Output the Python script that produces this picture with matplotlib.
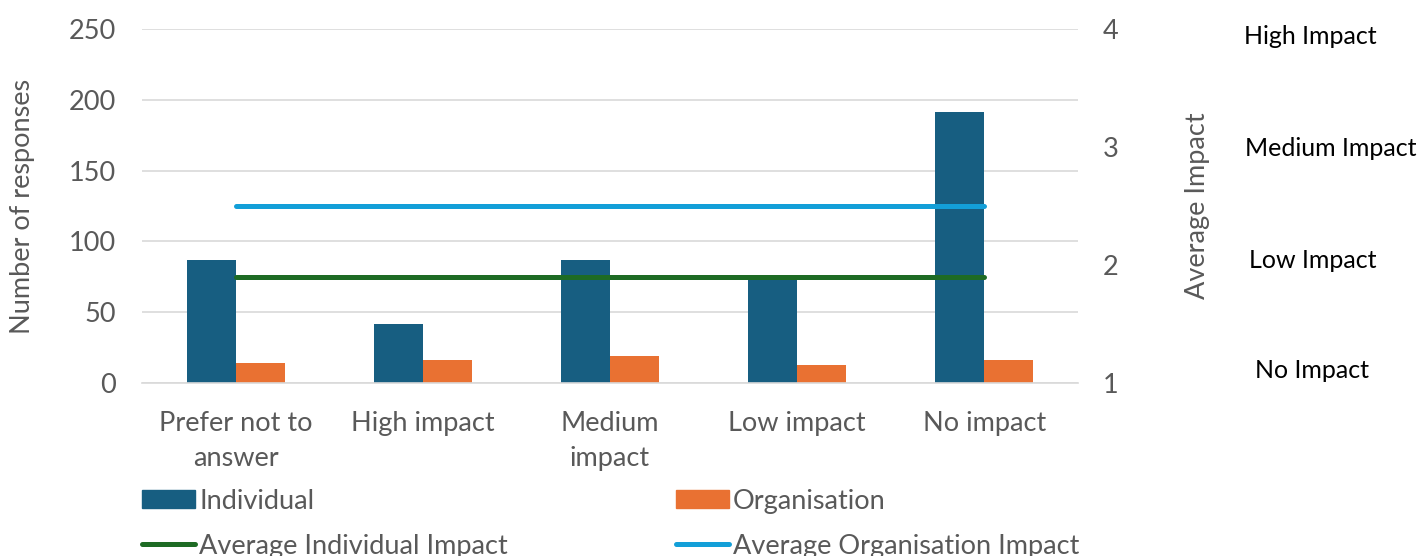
import matplotlib.pyplot as plt
import numpy as np
from matplotlib.lines import Line2D
from matplotlib.patches import Patch

categories = ["Prefer not to\nanswer", "High impact", "Medium\nimpact", "Low impact", "No impact"]
individual = [87, 42, 87, 75, 191]
organisation = [14, 16, 19, 13, 16]
avg_individual_impact = 1.9
avg_organisation_impact = 2.5
impact_levels = ["High Impact", "Medium Impact", "Low Impact", "No Impact"]

C_IND = "#175e81"
C_ORG = "#e97132"
C_AVG_IND = "#1e6b24"
C_AVG_ORG = "#139fd8"
GREY = "#595959"
FS = 19.5

plt.rcParams["font.family"] = ["Lato", "DejaVu Sans"]

fig = plt.figure(figsize=(14.23, 5.56), dpi=100)
ax = fig.add_axes([0.0998, 0.311, 0.6577, 0.637])

x = np.arange(len(categories))
w = 0.262
ax.bar(x - w / 2, individual, w, color=C_IND, zorder=2)
ax.bar(x + w / 2, organisation, w, color=C_ORG, zorder=2)

ax.set_xlim(-0.5, len(categories) - 0.5)
ax.set_ylim(0, 250)
ax.set_yticks(range(0, 251, 50))
ax.grid(axis="y", color="#d9d9d9", linewidth=1.2, zorder=0)
ax.set_axisbelow(True)
ax.set_xticks(x)
ax.set_xticklabels(categories, fontsize=FS, color=GREY, linespacing=1.5)
ax.tick_params(axis="y", labelsize=FS, labelcolor=GREY, length=0, pad=19)
ax.tick_params(axis="x", length=0, pad=20)
for side in ("top", "right", "left"):
    ax.spines[side].set_visible(False)
ax.spines["bottom"].set_color("#d9d9d9")
ax.spines["bottom"].set_linewidth(1.2)
ax.set_ylabel("Number of responses", fontsize=FS, color=GREY)
ax.yaxis.set_label_coords(-0.114, 0.5)

# secondary axis for the average impact lines
ax2 = ax.twinx()
ax2.set_ylim(1, 4)
ax2.set_yticks([1, 2, 3, 4])
ax2.tick_params(axis="y", labelsize=FS, labelcolor=GREY, length=0, pad=18)
for side in ("top", "right", "left", "bottom"):
    ax2.spines[side].set_visible(False)
ax2.plot(x, [avg_individual_impact] * len(x), color=C_AVG_IND, lw=3.6,
         solid_capstyle="round", zorder=3)
ax2.plot(x, [avg_organisation_impact] * len(x), color=C_AVG_ORG, lw=3.6,
         solid_capstyle="round", zorder=3)
ax2.set_ylabel("Average Impact", fontsize=FS, color=GREY)
ax2.yaxis.set_label_coords(1.114, 0.5)

# impact level captions to the right of the secondary axis
caption_pos = [(1310, 36), (1331, 149), (1313, 261), (1312, 371)]
for label, (px, py) in zip(impact_levels, caption_pos):
    fig.text(px / 1423, 1 - py / 556, label, ha="center", va="center",
             fontsize=18, color="black")

handles = [
    Patch(color=C_IND, label="Individual"),
    Line2D([0], [0], color=C_AVG_IND, lw=3.6, solid_capstyle="round",
           label="Average Individual Impact"),
    Patch(color=C_ORG, label="Organisation"),
    Line2D([0], [0], color=C_AVG_ORG, lw=3.6, solid_capstyle="round",
           label="Average Organisation Impact"),
]
fig.legend(handles=handles, ncol=2, loc="upper left", bbox_to_anchor=(0.0922, 0.1403),
           frameon=False, fontsize=FS, labelcolor=GREY, columnspacing=6.2,
           handlelength=1.96, handleheight=0.65, handletextpad=0.15,
           labelspacing=0.73, borderaxespad=0)

fig.savefig("out.png", dpi=100)
